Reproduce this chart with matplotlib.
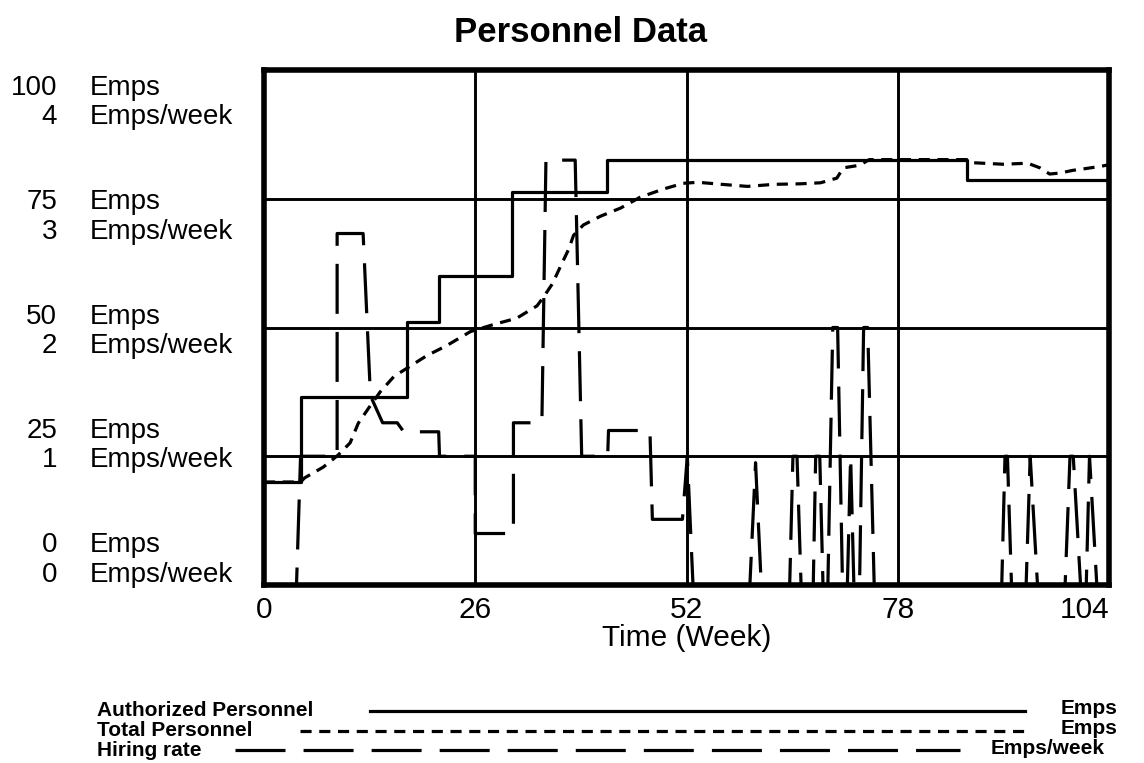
import matplotlib
matplotlib.use("Agg")
import matplotlib.pyplot as plt
from matplotlib.lines import Line2D

plt.rcParams['font.family'] = ['Liberation Sans', 'DejaVu Sans']
plt.rcParams['lines.scale_dashes'] = False

# ---------------- data ----------------
x_ticks = [0, 26, 52, 78, 104]
x_label = "Time (Week)"
title = "Personnel Data"

emps_levels = [100, 75, 50, 25, 0]
rate_levels = [4, 3, 2, 1, 0]

# Authorized Personnel (Emps), step function
auth_weeks = [0, 4.6, 17.6, 21.5, 30.5, 42.2, 86.5, 104]
auth_values = [20, 36.5, 51, 60, 76.3, 82.6, 78.7, 78.7]

# Total Personnel (Emps)
total_weeks = [0, 4.5, 5.0, 7.3, 9.1, 10.6, 11.6, 12.9, 14.3, 16.0, 18.0, 20.0, 22.5,
               25.4, 28.3, 31.1, 33.6, 34.4, 35.5, 36.5, 37.5, 38.1, 39.3, 41.4, 43.9,
               46.3, 49.2, 51.6, 53.4, 56.3, 59.5, 62.8, 66.0, 68.5, 70.5, 71.3, 73.3,
               74.5, 86.5, 87.2, 91.0, 94.0, 95.5, 96.7, 98.0, 99.5, 101.3, 103.0, 104.0]
total_values = [20, 20, 20.8, 22.9, 25.2, 27.6, 31.4, 34.4, 37.5, 40.5, 42.5, 44.5, 46.5,
                49.2, 50.6, 51.8, 54.2, 55.9, 58.5, 61.9, 65.2, 67.9, 69.9, 71.6, 73.2,
                75.3, 76.9, 78.0, 78.2, 77.8, 77.4, 77.8, 77.9, 78.1, 79.0, 81.0, 81.5,
                82.6, 82.6, 82.0, 81.7, 81.9, 81.0, 79.8, 80.0, 80.5, 80.9, 81.3, 81.6]

# Hiring rate (Emps/week)
hire_weeks = [0, 4.0, 4.5, 9.0, 9.0, 12.2, 13.1, 14.6, 16.4, 17.2, 21.5, 21.6, 26.0, 26.0,
              30.7, 30.7, 34.2, 34.7, 38.3, 39.1, 42.3, 42.4, 47.5, 47.8, 51.5, 52.1, 52.8,
              59.8, 60.5, 61.2, 64.7, 65.1, 65.6, 66.1, 67.6, 67.9, 68.4, 68.8, 69.4, 70.0,
              70.6, 71.2, 71.8, 72.2, 72.6, 73.3, 73.8, 74.3, 75.1, 90.8, 91.2, 91.5, 92.0,
              93.8, 94.3, 95.2, 98.6, 99.2, 99.6, 100.5, 101.2, 101.6, 102.5, 104.0]
hire_values = [0, 0, 1.0, 1.0, 2.73, 2.73, 1.47, 1.26, 1.26, 1.19, 1.19, 1.0, 1.0, 0.4,
               0.4, 1.26, 1.26, 3.3, 3.3, 1.0, 1.0, 1.2, 1.2, 0.51, 0.51, 1.0, 0,
               0, 0.95, 0, 0, 1.0, 1.0, 0, 0, 1.0, 1.0, 0, 0, 2.0,
               2.0, 0, 0, 1.0, 0, 0, 2.0, 2.0, 0, 0, 1.0, 1.0, 0,
               0, 1.0, 0, 0, 1.0, 1.0, 0, 0, 1.0, 0, 0]

legend_names = ["Authorized Personnel", "Total Personnel", "Hiring rate"]
legend_units = ["Emps", "Emps", "Emps/week"]

# ---------------- figure ----------------
W, H = 1144, 763
fig = plt.figure(figsize=(W / 100, H / 100), dpi=100)

def fx(px):
    return px / W

def fy(py):
    return 1 - py / H

ax_l, ax_r, ax_t, ax_b = 264, 1109, 70, 585
ax = fig.add_axes([fx(ax_l), fy(ax_b), fx(ax_r - ax_l), (ax_b - ax_t) / H])
ax.set_xlim(0, 104)
ax.set_ylim(0, 100)
ax.set_xticks(x_ticks)
ax.set_yticks([25, 50, 75])
ax.set_yticklabels([])
ax.tick_params(length=0, labelsize=21.5, pad=8)
for lab in ax.get_xticklabels():
    if lab.get_text() == "104":
        lab.set_ha("right")
ax.grid(True, color="black", linewidth=2.1)
ax.set_axisbelow(False)
for s in ax.spines.values():
    s.set_linewidth(4)
ax.set_xlabel(x_label, fontsize=21.5, labelpad=0)

ax2 = ax.twinx()
ax2.set_ylim(0, 4)
ax2.axis("off")

lw = 2.3
total_dash = (8, 5.5)
hire_dash = (36, 13)

ax.plot(auth_weeks, auth_values, drawstyle="steps-post", color="black", lw=lw)
ax.plot(total_weeks, total_values, color="black", lw=lw, linestyle=(0, total_dash))
ax2.plot(hire_weeks, hire_values, color="black", lw=lw, linestyle=(0, hire_dash))

fig.text(fx(580), fy(33), title, fontsize=25, fontweight="bold", ha="center", va="center")

# left value labels
for i, (e, r) in enumerate(zip(emps_levels, rate_levels)):
    y1 = 88 + i * 114.3
    y2 = y1 + 29.5
    fig.text(fx(57), fy(y1), str(e), fontsize=20, ha="right", va="center")
    fig.text(fx(90), fy(y1), "Emps", fontsize=20, ha="left", va="center")
    fig.text(fx(57), fy(y2), str(r), fontsize=20, ha="right", va="center")
    fig.text(fx(90), fy(y2), "Emps/week", fontsize=20, ha="left", va="center")

# legend
leg_y = [711, 731, 750]
leg_x0 = [370, 300, 235]
leg_x1 = [1025, 1030, 960]
leg_styles = ["-", (0, total_dash), (0, hire_dash)]
unit_x = [1118, 1118, 1105]
for name, unit, y, x0, x1, st, ux in zip(legend_names, legend_units, leg_y, leg_x0,
                                         leg_x1, leg_styles, unit_x):
    fig.text(fx(97), fy(y), name, fontsize=15, fontweight="bold", ha="left", va="center")
    fig.text(fx(ux), fy(y - 2), unit, fontsize=15, fontweight="bold", ha="right", va="center")
    fig.add_artist(Line2D([fx(x0), fx(x1)], [fy(y), fy(y)], color="black", lw=lw,
                          linestyle=st, transform=fig.transFigure))

fig.savefig("out.png", dpi=100)
